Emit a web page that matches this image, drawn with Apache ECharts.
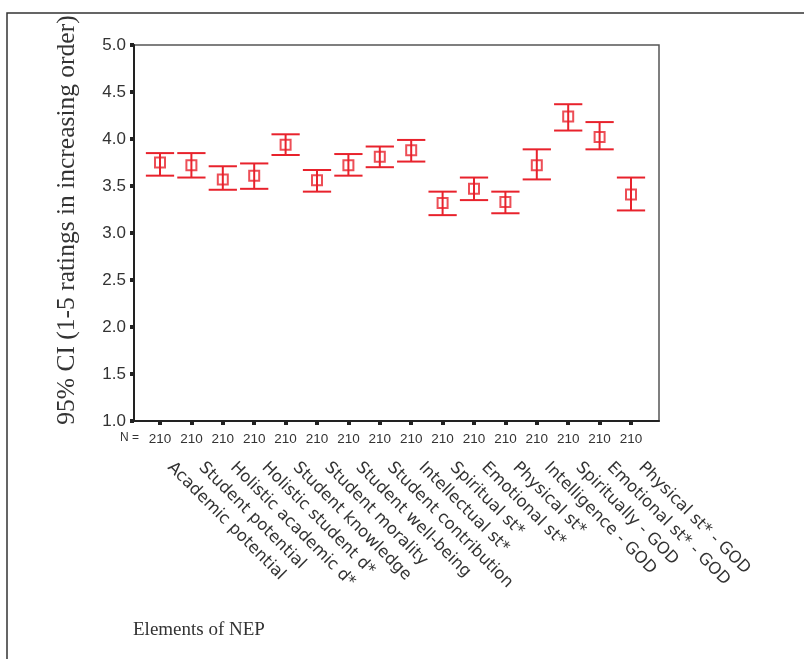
<!DOCTYPE html>
<html>
<head>
<meta charset="utf-8">
<title>Elements of NEP</title>
<script src="https://cdn.jsdelivr.net/npm/echarts@6/dist/echarts.min.js"></script>
<style>
  html, body { margin: 0; padding: 0; background: #fff; }
  #main { width: 804px; height: 659px; }
</style>
</head>
<body>
<div id="main"></div>
<script>
// categories (x axis)
const categories = [
    'Academic potential', 'Student potential', 'Holistic academic d*', 'Holistic student d*',
    'Student knowledge', 'Student morality', 'Student well-being', 'Student contribution',
    'Intellectual st*', 'Spiritual st*', 'Emotional st*', 'Physical st*',
    'Intelligence - GOD', 'Spiritually - GOD', 'Emotional st* - GOD', 'Physical st* - GOD'
];
// sample size under each category
const nValues = [210, 210, 210, 210, 210, 210, 210, 210, 210, 210, 210, 210, 210, 210, 210, 210];
// means and 95% CI bounds
const means = [3.75, 3.72, 3.57, 3.61, 3.94, 3.56, 3.72, 3.81, 3.88, 3.32, 3.47, 3.33, 3.72, 4.24, 4.02, 3.41];
const upper = [3.85, 3.85, 3.71, 3.74, 4.05, 3.67, 3.84, 3.92, 3.99, 3.44, 3.59, 3.44, 3.89, 4.37, 4.18, 3.59];
const lower = [3.61, 3.59, 3.46, 3.47, 3.83, 3.44, 3.61, 3.70, 3.76, 3.19, 3.35, 3.21, 3.57, 4.09, 3.89, 3.24];

const red = '#e8222c';
const ink = '#333';

let chart = echarts.init(document.getElementById('main'));

// whiskers with caps
function renderCI(params, api) {
    const x = api.value(0);
    const lo = api.coord([x, api.value(1)]);
    const hi = api.coord([x, api.value(2)]);
    const half = api.size([1, 0])[0] * 0.45;
    const style = { stroke: red, lineWidth: 2 };
    return {
        type: 'group',
        children: [
            { type: 'line', shape: { x1: hi[0], y1: hi[1], x2: lo[0], y2: lo[1] }, style: style },
            { type: 'line', shape: { x1: hi[0] - half, y1: hi[1], x2: hi[0] + half, y2: hi[1] }, style: style },
            { type: 'line', shape: { x1: lo[0] - half, y1: lo[1], x2: lo[0] + half, y2: lo[1] }, style: style }
        ]
    };
}

const option = {
    animation: false,
    backgroundColor: '#fff',
    textStyle: { fontFamily: 'Liberation Sans' },
    grid: [
        // frame of the plot
        { left: 134, right: 145, top: 45, bottom: 238, show: true, borderColor: '#555', borderWidth: 1.5 },
        // data area
        { left: 144.3, right: 157.3, top: 45, bottom: 238 },
        // slanted category names, nudged right
        { left: 154.3, right: 147.3, top: 45, bottom: 238 }
    ],
    xAxis: [
        {
            type: 'value', gridIndex: 0, min: 0, max: 1,
            axisLine: { show: true, lineStyle: { color: '#222', width: 2 } },
            axisTick: { show: false }, axisLabel: { show: false }, splitLine: { show: false }
        },
        {
            type: 'category', gridIndex: 1, position: 'bottom', data: nValues,
            axisLine: { show: false },
            axisTick: { show: true, alignWithLabel: true, length: 4, lineStyle: { color: '#222', width: 4 } },
            axisLabel: { interval: 0, fontSize: 13.5, color: ink, margin: 11 }
        },
        {
            type: 'category', gridIndex: 2, position: 'bottom', data: categories,
            axisLine: { show: false }, axisTick: { show: false },
            axisLabel: { interval: 0, rotate: -45, fontSize: 16.5, fontFamily: 'DejaVu Sans', color: ink, margin: 44 }
        }
    ],
    yAxis: [
        {
            type: 'value', gridIndex: 0, min: 1, max: 5, interval: 0.5,
            name: '95% CI (1-5 ratings in increasing order)',
            nameLocation: 'middle', nameGap: 54,
            nameTextStyle: { fontFamily: 'Liberation Serif', fontSize: 25.5, color: ink, padding: [0, 0, 0, 26] },
            axisLine: { show: true, lineStyle: { color: '#222', width: 2 } },
            axisTick: { show: true, length: 4, lineStyle: { color: '#222', width: 4 } },
            axisLabel: { fontSize: 17, color: ink, margin: 8, formatter: v => v.toFixed(1) },
            splitLine: { show: false }
        },
        { type: 'value', gridIndex: 1, min: 1, max: 5, show: false },
        { type: 'value', gridIndex: 2, min: 1, max: 5, show: false }
    ],
    graphic: [
        {
            type: 'polyline', silent: true,
            shape: { points: [[7, 659], [7, 13], [804, 13]] },
            style: { stroke: ink, lineWidth: 1.5, fill: null }
        },
        { type: 'text', left: 120, top: 432, style: { text: 'N =', fontSize: 12, fill: ink, fontFamily: 'Liberation Sans' } },
        { type: 'text', left: 133, top: 621, style: { text: 'Elements of NEP', fontSize: 19, fill: ink, fontFamily: 'Liberation Serif' } }
    ],
    series: [
        {
            name: '95% CI',
            type: 'custom',
            xAxisIndex: 1, yAxisIndex: 1,
            renderItem: renderCI,
            data: means.map((m, i) => [i, lower[i], upper[i]]),
            z: 2
        },
        {
            name: 'Mean',
            type: 'scatter',
            xAxisIndex: 1, yAxisIndex: 1,
            symbol: 'rect', symbolSize: 10,
            itemStyle: { color: 'rgba(0,0,0,0)', borderColor: red, borderWidth: 2 },
            data: means.map((m, i) => [i, m]),
            z: 3
        }
    ]
};
chart.setOption(option);
</script>
</body>
</html>
